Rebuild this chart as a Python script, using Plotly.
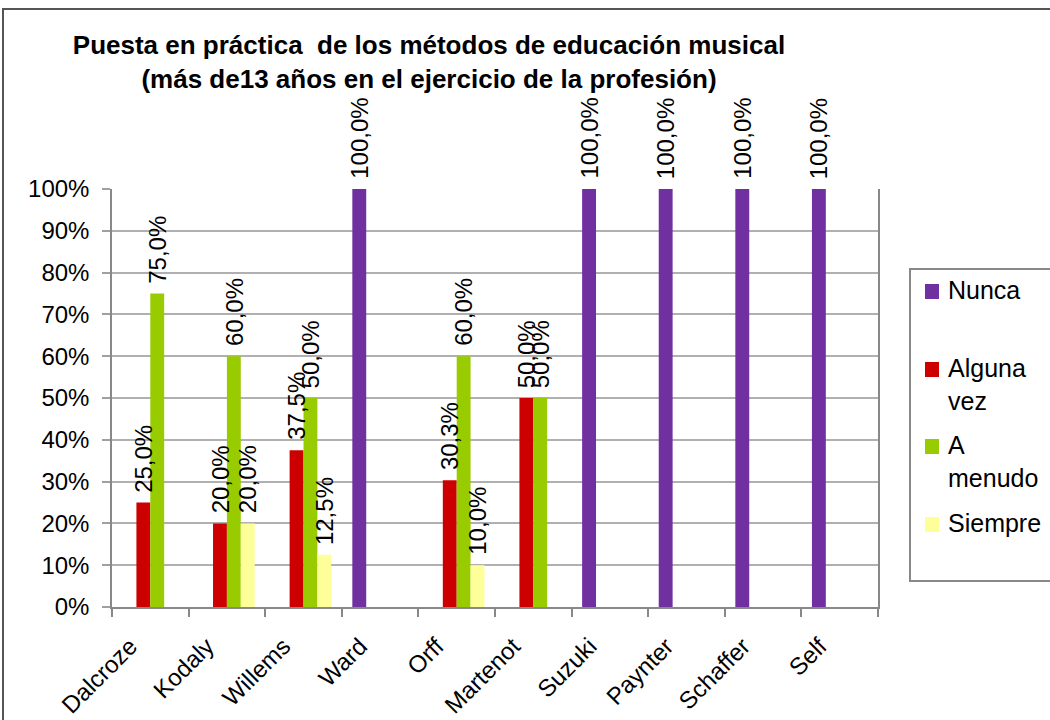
import plotly.graph_objects as go

# Methods surveyed
categories = ["Dalcroze", "Kodaly", "Willems", "Ward", "Orff",
              "Martenot", "Suzuki", "Paynter", "Schaffer", "Self"]

# Share of teachers (%) per answer
nunca = [0, 0, 0, 100, 0, 0, 100, 100, 100, 100]
alguna_vez = [25.0, 20.0, 37.5, 0, 30.3, 50.0, 0, 0, 0, 0]
a_menudo = [75.0, 60.0, 50.0, 0, 60.0, 50.0, 0, 0, 0, 0]
siempre = [0, 20.0, 12.5, 0, 10.0, 0, 0, 0, 0, 0]

series_names = ["Nunca", "Alguna<br>vez", "A<br>menudo", "Siempre"]
series_values = [nunca, alguna_vez, a_menudo, siempre]
colors = ["#7030A0", "#CC0000", "#99CC00", "#FFFF99"]

y_ticks = list(range(0, 101, 10))

FONT = "Liberation Sans, Arial, sans-serif"
W, H = 1050, 720
ML, MR, MT, MB = 112, 172, 189, 113
PW, PH = W - ML - MR, H - MT - MB
BARGAP = 0.275


def px_x(px):
    return (px - ML) / PW


def px_y(py):
    return (H - MB - py) / PH


fig = go.Figure()
for name, vals, col in zip(series_names, series_values, colors):
    fig.add_trace(go.Bar(
        x=categories, y=vals, name=name.replace("<br>", " "),
        marker=dict(color=col, line=dict(width=0)),
        showlegend=False,
    ))

# Rotated value labels above each non-zero bar
annotations = []
bar_w = (1 - BARGAP) / len(series_values)
for k, vals in enumerate(series_values):
    offset = (k - (len(series_values) - 1) / 2) * bar_w
    for i, v in enumerate(vals):
        if v <= 0:
            continue
        annotations.append(dict(
            x=i + offset, y=v, xref="x", yref="y",
            text=f"{v:.1f}".replace(".", ",") + "%",
            textangle=-90, showarrow=False,
            xanchor="center", yanchor="bottom", yshift=8,
            font=dict(family=FONT, size=24, color="#000000"),
        ))

# Legend drawn as a boxed key on the right
legend_rows = [(284, "Nunca"), (362, "Alguna<br>vez"), (439, "A<br>menudo"), (517, "Siempre")]
shapes = []
for (top, label), col in zip(legend_rows, colors):
    shapes.append(dict(
        type="rect", xref="paper", yref="paper",
        x0=px_x(925), x1=px_x(939), y0=px_y(top + 15), y1=px_y(top),
        fillcolor=col, line=dict(width=0),
    ))
    annotations.append(dict(
        x=px_x(946), y=px_y(top - 10), xref="paper", yref="paper",
        text=label, showarrow=False, xanchor="left", yanchor="top", align="left",
        font=dict(family=FONT, size=25, color="#000000"),
    ))

shapes.append(dict(
    type="rect", xref="paper", yref="paper",
    x0=px_x(910), x1=px_x(1060), y0=px_y(581), y1=px_y(269),
    line=dict(color="#888888", width=2), fillcolor="rgba(0,0,0,0)",
))

# Outer chart frame
shapes.append(dict(
    type="rect", xref="paper", yref="paper",
    x0=px_x(3), x1=px_x(1070), y0=px_y(740), y1=px_y(9),
    line=dict(color="#555555", width=2), fillcolor="rgba(0,0,0,0)",
))

fig.update_layout(
    width=W, height=H,
    margin=dict(l=ML, r=MR, t=MT, b=MB, autoexpand=False),
    paper_bgcolor="white", plot_bgcolor="white",
    barmode="group", bargap=BARGAP, bargroupgap=0,
    title=dict(
        text="Puesta en práctica  de los métodos de educación musical<br>"
             "(más de13 años en el ejercicio de la profesión)",
        x=429 / W, xref="container", xanchor="center",
        y=1 - 54 / H, yref="container", yanchor="middle",
        font=dict(family=FONT, size=26, color="#000000", weight="bold"),
    ),
    font=dict(family=FONT, color="#000000"),
    annotations=annotations,
    shapes=shapes,
    xaxis=dict(
        type="category",
        automargin=False,
        tickangle=-45,
        tickfont=dict(family=FONT, size=24, color="#000000"),
        showline=True, linecolor="#888888", linewidth=1.5,
        ticks="outside", tickson="boundaries", ticklen=8,
        tickcolor="#888888", tickwidth=1.5,
        ticklabelshift=-20, ticklabelstandoff=14,
        showgrid=False,
    ),
    yaxis=dict(
        automargin=False,
        range=[0, 100],
        tickvals=y_ticks,
        ticktext=[f"{t}%" for t in y_ticks],
        tickfont=dict(family=FONT, size=24, color="#000000"),
        showline=True, linecolor="#888888", linewidth=1.5, mirror=True,
        ticks="outside", ticklen=8, tickcolor="#a0a0a0", tickwidth=1.5,
        ticklabelstandoff=8,
        showgrid=True, gridcolor="#b0b0b0", gridwidth=1.5,
        zeroline=False,
    ),
)

fig.write_html("out.html")
